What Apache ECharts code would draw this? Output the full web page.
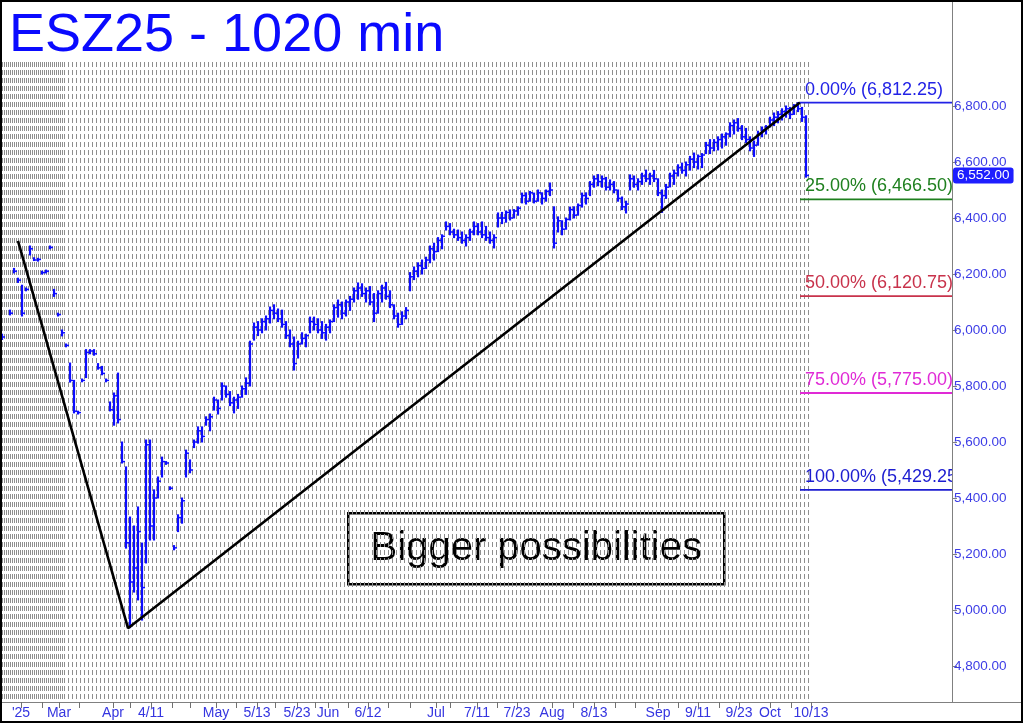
<!DOCTYPE html>
<html><head><meta charset="utf-8">
<script src="https://cdn.jsdelivr.net/npm/echarts@6/dist/echarts.min.js"></script>
<style>html,body{margin:0;padding:0;background:#fff}#c{width:1024px;height:724px}</style>
</head><body><div id="c"></div>
<script>
// ---- data (one bar per index) ----
const lows = [5966,null,6054,6204,6170,6050,6140,6268,6248,6246,
6200,6204,6290,6120,6050,5979,5940,5814,5704,5700,
5815,5830,5915,5910,5860,5840,5815,5711,5660,5668,
5525,5221,4937,5064,5036,4964,5168,5250,5250,5400,
5475,5520,5430,5215,5280,5310,5475,5490,5580,5596,
5600,5660,5640,5714,5700,5750,5760,5730,5704,5720,
5760,5770,5800,5964,5980,5990,6000,6025,6040,6030,
6010,5970,5940,5857,5900,5950,5940,5990,6000,5990,
5970,5964,5990,6030,6046,6040,6050,6070,6100,6110,
6120,6100,6090,6030,6060,6100,6110,6080,6040,6010,
6020,6040,6140,6180,6190,6200,6220,6240,6250,6280,
6290,6357,6340,6330,6320,6310,6300,6320,6340,6340,
6330,6320,6310,6293,6368,6380,6385,6393,6400,6410,
6454,6450,6460,6454,6460,6450,6460,6480,6293,6350,
6340,6360,6393,6400,6410,6439,6450,6480,6510,6515,
6510,6500,6500,6490,6460,6430,6418,6500,6510,6500,
6520,6530,6520,6530,6480,6420,6470,6511,6520,6550,
6560,6550,6571,6580,6575,6580,6630,6630,6640,6643,
6650,6660,6690,6700,6710,6680,6670,6640,6620,6660,
6690,6700,6725,6730,6740,6750,6760,6755,6770,6780,
6745,6546];
const highs = [5985,null,6071,6220,6185,6160,6150,6300,6258,6256,
6210,6214,6300,6145,6060,6000,5950,5882,5820,5710,
5825,5930,5930,5930,5880,5870,5825,5743,5775,5846,
5600,5511,5332,5300,5368,5239,5607,5607,5429,5475,
5546,5530,5440,5230,5340,5400,5571,5536,5607,5654,
5654,5690,5700,5760,5750,5811,5800,5780,5760,5770,
5800,5829,5960,6025,6030,6040,6050,6082,6090,6075,
6071,6030,6000,5975,5960,5990,5985,6046,6046,6040,
6030,6020,6036,6090,6107,6100,6107,6120,6150,6168,
6165,6150,6155,6130,6140,6160,6170,6140,6090,6060,
6065,6080,6205,6225,6240,6250,6260,6300,6310,6330,
6340,6386,6380,6360,6357,6350,6340,6360,6386,6380,
6386,6370,6350,6340,6418,6420,6425,6429,6430,6440,
6489,6490,6495,6489,6500,6490,6500,6525,6440,6404,
6390,6400,6439,6440,6450,6489,6490,6530,6550,6555,
6550,6545,6536,6530,6500,6475,6460,6554,6550,6540,
6560,6571,6560,6570,6540,6500,6520,6560,6571,6590,
6596,6600,6620,6632,6625,6630,6670,6680,6680,6690,
6700,6704,6740,6750,6755,6730,6720,6690,6675,6710,
6725,6730,6760,6775,6780,6790,6800,6795,6805,6812.25,
6795,6765];
const closes = [5975,null,6060,6210,6178,6060,6145,6290,6250,6252,
6205,6210,6295,6130,6055,5990,5945,5820,5710,5705,
5820,5920,5925,5915,5865,5845,5820,5715,5765,5680,
5530,5240,5100,5150,5280,5080,5590,5300,5400,5460,
5530,5525,5435,5222,5330,5390,5560,5500,5600,5640,
5620,5680,5690,5750,5720,5800,5770,5740,5750,5760,
5790,5810,5950,6010,6000,6030,6040,6070,6060,6040,
6020,5980,5950,5880,5950,5970,5980,6030,6020,6000,
5990,6010,6030,6080,6090,6060,6100,6110,6140,6150,
6130,6140,6100,6060,6130,6150,6120,6090,6050,6020,
6050,6070,6190,6210,6230,6220,6250,6290,6280,6320,
6335,6370,6350,6340,6330,6320,6330,6350,6370,6350,
6340,6330,6320,6330,6400,6400,6420,6400,6425,6435,
6480,6460,6490,6460,6490,6470,6495,6500,6310,6390,
6360,6395,6430,6410,6445,6480,6470,6520,6540,6530,
6540,6510,6520,6500,6470,6440,6450,6540,6520,6530,
6550,6540,6550,6540,6490,6480,6510,6550,6560,6580,
6570,6590,6610,6600,6620,6625,6660,6650,6670,6680,
6690,6700,6730,6740,6720,6690,6680,6650,6660,6700,
6715,6725,6750,6760,6770,6780,6790,6770,6800,6790,
6760,6552];
const trendPoints = [[4, 6318], [31.5, 4935], [199.5, 6812.25]];
const fibStartIdx = 199.5;
const fibPcts = ['0.00%', '25.00%', '50.00%', '75.00%', '100.00%'];
const fibLevels = [6812.25, 6466.50, 6120.75, 5775.00, 5429.25];
const lastPrice = 6552.00;
const yTicks = [4800, 5000, 5200, 5400, 5600, 5800, 6000, 6200, 6400, 6600, 6800];
const dateLabels = ["'25", 'Mar', 'Apr', '4/11', 'May', '5/13', '5/23', 'Jun', '6/12', 'Jul', '7/11', '7/23', 'Aug', '8/13', 'Sep', '9/11', '9/23', 'Oct', '10/13'];
const dateTickIdx = [4.75, 14.25, 27.75, 37.25, 53.5, 63.75, 73.75, 81.5, 91.5, 108.5, 118.75, 128.75, 137.5, 148, 164, 174, 184.25, 192, 202.25];
const minorTickIdx = [10, 19.25, 32, 42.5, 47, 58.5, 68.25, 78.25, 86.5, 96.5, 102, 112, 123.75, 142.75, 153.25, 158.25, 169, 179.25, 197.25];

// ---- styles ----
const fibColors = ['#2222e6', '#1f801f', '#c8324b', '#e02ad6', '#1c1cd0'];
const barColor = '#0c0cff';
const gridColor = '#8e8e8e';
const FONT = 'Liberation Sans, Arial, sans-serif';
const fmt = v => v.toLocaleString('en-US', {minimumFractionDigits: 2, maximumFractionDigits: 2});

const ohlc = [];
for (let i = 0; i < lows.length; i++) {
  if (lows[i] != null) ohlc.push([i, lows[i], highs[i], closes[i]]);
}
const fibData = fibLevels.map((v, k) => [k, v]);
const X_MIN = -0.5, X_MAX = 237.5;

const chart = echarts.init(document.getElementById('c'), null, {renderer: 'canvas'});
chart.setOption({
  animation: false,
  backgroundColor: '#ffffff',
  title: {
    text: 'ESZ25 - 1020 min', left: 4, top: 4, z: 8,
    textStyle: {color: '#0a0aff', fontSize: 54, fontWeight: 'normal', fontFamily: FONT}
  },
  grid: [
    {left: 0, right: 72, top: 0, bottom: 22, outerBoundsMode: 'none', containLabel: false},
    {left: 0, width: 808, top: 62, bottom: 22, outerBoundsMode: 'none', containLabel: false},
    {left: 0, width: 62, top: 62, bottom: 22, outerBoundsMode: 'none', containLabel: false}
  ],
  xAxis: [
    {
      type: 'value', gridIndex: 0, min: X_MIN, max: X_MAX, position: 'bottom', z: 4,
      axisLine: {show: true, onZero: false, lineStyle: {color: '#808080', width: 1}},
      axisTick: {show: true, customValues: dateTickIdx.concat(minorTickIdx), length: 6, lineStyle: {color: '#707070'}},
      axisLabel: {
        show: true, customValues: dateTickIdx, margin: 4, color: '#3535e0', fontSize: 14, fontFamily: FONT,
        formatter: v => { const k = dateTickIdx.findIndex(t => Math.abs(t - v) < 1e-6); return k >= 0 ? dateLabels[k] : ''; }
      },
      splitLine: {show: false}
    },
    {
      type: 'value', gridIndex: 1, min: 0, max: 202, interval: 1, z: 0,
      axisLine: {show: false, onZero: false}, axisTick: {show: false}, axisLabel: {show: false},
      splitLine: {show: true, lineStyle: {color: gridColor, width: 1, type: [5, 3]}}
    },
    {
      type: 'value', gridIndex: 2, min: 0, max: 31, interval: 1, z: 0,
      axisLine: {show: false, onZero: false}, axisTick: {show: false}, axisLabel: {show: false},
      splitLine: {show: true, lineStyle: {color: gridColor, width: 1, type: [5, 3]}}
    }
  ],
  yAxis: [
    {
      type: 'value', gridIndex: 0, position: 'right', min: 4671.4, max: 7178.6, scale: true, z: 4,
      axisLine: {show: true, onZero: false, lineStyle: {color: '#808080', width: 1}},
      axisTick: {show: true, customValues: yTicks, length: 5, lineStyle: {color: '#808080'}},
      axisLabel: {
        show: true, customValues: yTicks, margin: 2, color: '#3c3ce6', fontSize: 13.5, fontFamily: FONT,
        formatter: v => fmt(v)
      },
      splitLine: {show: false},
      axisPointer: {
        show: true, type: 'line', value: lastPrice, status: 'show', snap: false,
        triggerTooltip: false, lineStyle: {opacity: 0},
        label: {show: true, backgroundColor: '#1e1eff', color: '#ffffff', fontSize: 13.5, fontFamily: FONT,
          padding: [1, 4, 1, 4], margin: 1, formatter: () => fmt(lastPrice)}
      }
    },
    {type: 'value', gridIndex: 1, min: 0, max: 1, show: false, axisLine: {onZero: false}},
    {type: 'value', gridIndex: 2, min: 0, max: 1, show: false, axisLine: {onZero: false}}
  ],
  series: [
    {
      type: 'custom', name: 'ESZ25', xAxisIndex: 0, yAxisIndex: 0, clip: true, z: 3,
      data: ohlc,
      renderItem: (params, api) => {
        const x = api.value(0);
        const lo = api.coord([x, api.value(1)]);
        const hi = api.coord([x, api.value(2)]);
        const cl = api.coord([x, api.value(3)]);
        return {type: 'group', children: [
          {type: 'line', shape: {x1: lo[0], y1: lo[1] + 0.5, x2: hi[0], y2: hi[1] - 0.5}, style: {stroke: barColor, lineWidth: 2.2}},
          {type: 'line', shape: {x1: cl[0], y1: cl[1], x2: cl[0] + 3, y2: cl[1]}, style: {stroke: barColor, lineWidth: 1.5}}
        ]};
      }
    },
    {
      type: 'line', xAxisIndex: 0, yAxisIndex: 0, data: trendPoints, symbol: 'none', z: 5,
      lineStyle: {color: '#000000', width: 2.6, type: 'solid'}, silent: true
    },
    {
      type: 'custom', name: 'fib', xAxisIndex: 0, yAxisIndex: 0, clip: true, z: 6,
      data: fibData,
      renderItem: (params, api) => {
        const k = api.value(0), v = api.value(1);
        const p0 = api.coord([fibStartIdx, v]);
        const p1 = api.coord([X_MAX, v]);
        const c = fibColors[k];
        return {type: 'group', children: [
          {type: 'line', shape: {x1: p0[0], y1: p0[1], x2: p1[0], y2: p1[1]}, style: {stroke: c, lineWidth: 1.8}},
          {type: 'text', x: p0[0] + 5, y: p0[1] - 4, style: {
            text: fibPcts[k] + ' (' + fmt(v) + ')', fill: c, fontSize: 18, fontFamily: FONT,
            verticalAlign: 'bottom', align: 'left'}}
        ]};
      }
    }
  ],
  graphic: [
    {type: 'line', shape: {x1: 952, y1: 702.5, x2: 1022, y2: 702.5}, style: {stroke: '#808080', lineWidth: 1}, z: 10},
    {type: 'group', left: 347, top: 512, z: 20, children: [
      {type: 'rect', shape: {x: 0, y: 0, width: 376, height: 71}, style: {fill: '#ffffff', stroke: '#000000', lineWidth: 2.5}},
      {type: 'text', x: 188, y: 36, style: {text: 'Bigger possibilities', fill: '#000000', fontSize: 40, fontFamily: FONT,
        align: 'center', verticalAlign: 'middle'}}
    ]},
    {type: 'rect', shape: {x: 1, y: 1, width: 1021, height: 721}, style: {fill: 'none', stroke: '#000000', lineWidth: 2}, z: 30, silent: true}
  ]
});
</script></body></html>
